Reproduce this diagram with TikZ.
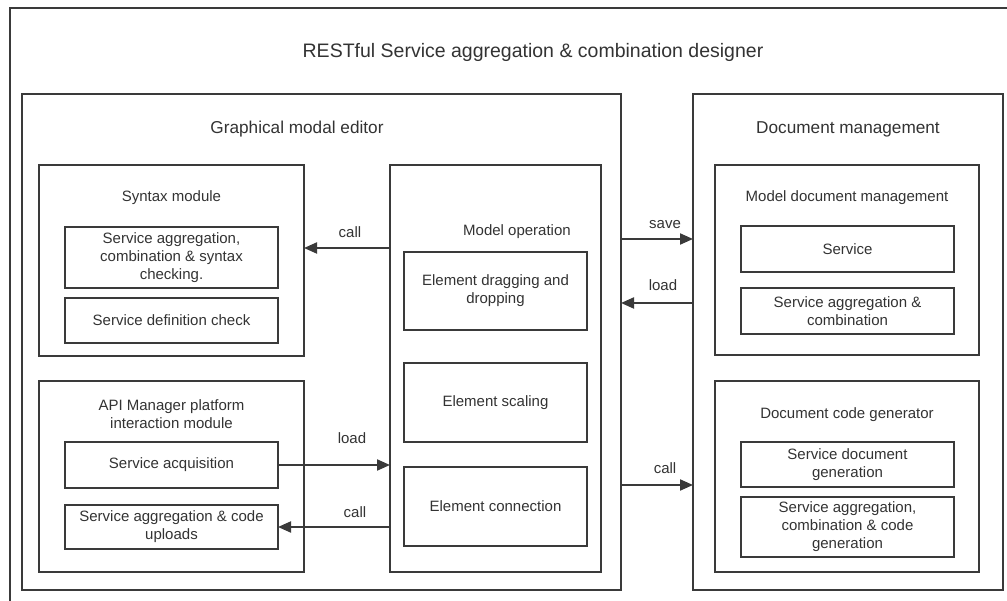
\documentclass[tikz,border=0pt]{standalone}
\usepackage{fontspec}
\setmainfont{Liberation Sans}
\usetikzlibrary{arrows.meta}
\definecolor{ln}{HTML}{3A3A3A}
\definecolor{tx}{HTML}{333333}
\begin{document}
\begin{tikzpicture}[x=1pt,y=-1pt,
  box/.style={draw=ln, line width=2pt, inner sep=0pt, outer sep=0pt, rectangle},
  inbox/.style={box, font=\fontsize{15}{18}\selectfont, text=tx, align=center},
  lbl/.style={font=\fontsize{15}{18}\selectfont, text=tx, align=center, inner sep=0pt},
  hdr/.style={font=\fontsize{17.2}{20}\selectfont, text=tx, inner sep=0pt},
  arr/.style={draw=ln, line width=2pt, -{Triangle[length=13pt,width=11pt]}}]
\useasboundingbox (0,0) rectangle (1007,601);
\clip (0,0) rectangle (1007,601);
\fill[white] (0,0) rectangle (1007,601);
% outer
\node[box, minimum width=1010pt, minimum height=605pt, anchor=north west] (outer) at (10,8) {};
\node[font=\fontsize{19.5}{22}\selectfont, text=tx, inner sep=0pt] (title) at (533,52) {RESTful Service aggregation \& combination designer};
% graphical modal editor
\node[box, minimum width=599pt, minimum height=496pt, anchor=north west] (gme) at (22,94) {};
\node[hdr] (gmel) at (297,129) {Graphical modal editor};
% syntax module
\node[box, minimum width=265pt, minimum height=191pt, anchor=north west] (syn) at (39,165) {};
\node[lbl] (synl) at (171.5,198) {Syntax module};
\node[inbox, minimum width=213pt, minimum height=61pt] (syn1) at (171.5,257.5) {Service aggregation,\\combination \& syntax\\checking.};
\node[inbox, minimum width=213pt, minimum height=45pt] (syn2) at (171.5,320.5) {Service definition check};
% API manager
\node[box, minimum width=265pt, minimum height=191pt, anchor=north west] (api) at (39,381) {};
\node[lbl] (apil) at (171.5,414) {API Manager platform\\interaction module};
\node[inbox, minimum width=213pt, minimum height=46pt] (api1) at (171.5,465) {Service acquisition};
\node[inbox, minimum width=213pt, minimum height=44pt] (api2) at (171.5,527) {Service aggregation \& code\\uploads};
% model operation
\node[box, minimum width=211pt, minimum height=407pt, anchor=north west] (mo) at (390,165) {};
\node[lbl] (mol) at (517,232) {Model operation};
\node[inbox, minimum width=183pt, minimum height=78pt] (mo1) at (495.5,291) {Element dragging and\\dropping};
\node[inbox, minimum width=183pt, minimum height=79pt] (mo2) at (495.5,402.5) {Element scaling};
\node[inbox, minimum width=183pt, minimum height=79pt] (mo3) at (495.5,506.5) {Element connection};
% document management
\node[box, minimum width=310pt, minimum height=496pt, anchor=north west] (dm) at (693,94) {};
\node[hdr] (dml) at (848,129) {Document management};
\node[box, minimum width=264pt, minimum height=190pt, anchor=north west] (mdm) at (715,165) {};
\node[lbl] (mdml) at (847,198) {Model document management};
\node[inbox, minimum width=213pt, minimum height=46pt] (mdm1) at (847.5,249) {Service};
\node[inbox, minimum width=213pt, minimum height=46pt] (mdm2) at (847.5,311) {Service aggregation \&\\combination};
\node[box, minimum width=264pt, minimum height=191pt, anchor=north west] (dcg) at (715,381) {};
\node[lbl] (dcgl) at (847,415) {Document code generator};
\node[inbox, minimum width=213pt, minimum height=45pt] (dcg1) at (847.5,464.5) {Service document\\generation};
\node[inbox, minimum width=213pt, minimum height=60pt] (dcg2) at (847.5,527) {Service aggregation,\\combination \& code\\generation};
% connectors
\draw[arr] (mo.west |- 0,248) -- (syn.east |- 0,248);
\node[lbl] (c1) at (350,232) {call};
\draw[arr] (api1.east) -- (mo.west |- api1.east);
\node[lbl] (l1) at (352,438) {load};
\draw[arr] (mo.west |- api2.east) -- (api2.east);
\node[lbl] (c2) at (355,512) {call};
\draw[arr] (gme.east |- 0,239) -- (dm.west |- 0,239);
\node[lbl] (s1) at (665,225) {save};
\draw[arr] (dm.west |- 0,303) -- (gme.east |- 0,303);
\node[lbl] (l2) at (663,285) {load};
\draw[arr] (gme.east |- 0,485) -- (dm.west |- 0,485);
\node[lbl] (c3) at (665,468) {call};
\end{tikzpicture}
\end{document}
